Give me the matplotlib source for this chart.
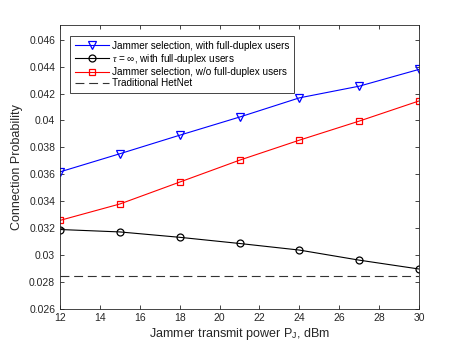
import matplotlib
matplotlib.use('Agg')
import matplotlib.pyplot as plt
import numpy as np

plt.rcParams['font.family'] = ['Liberation Sans', 'DejaVu Sans']
plt.rcParams['mathtext.fontset'] = 'custom'
plt.rcParams['mathtext.rm'] = 'Liberation Sans'
plt.rcParams['mathtext.it'] = 'Liberation Serif:italic'

# data
power = [12, 15, 18, 21, 24, 27, 30]
jammer_fd = [0.03617, 0.03752, 0.03890, 0.04025, 0.04168, 0.04255, 0.04380]
tau_inf_fd = [0.03188, 0.03170, 0.03130, 0.03084, 0.03035, 0.02960, 0.02894]
jammer_nofd = [0.03256, 0.03378, 0.03541, 0.03704, 0.03853, 0.03995, 0.04145]
hetnet = 0.02843

labels = ['Jammer selection, with full-duplex users',
          r'$\tau$ = $\infty$, with full-duplex users',
          'Jammer selection, w/o full-duplex users',
          'Traditional HetNet']

fig = plt.figure(figsize=(4.63, 3.48), dpi=100)
ax = fig.add_axes([0.1296, 0.1135, 0.7754, 0.8145])

lw = 0.8
ax.plot(power, jammer_fd, color='b', lw=lw, marker='v', ms=5.5,
        mfc='none', mec='b', mew=0.9, label=labels[0])
ax.plot(power, tau_inf_fd, color='k', lw=lw, marker='o', ms=5,
        mfc='none', mec='k', mew=0.9, label=labels[1])
ax.plot(power, jammer_nofd, color='r', lw=lw, marker='s', ms=4.5,
        mfc='none', mec='r', mew=0.9, label=labels[2])
ax.plot([power[0], power[-1]], [hetnet, hetnet], color='#333333', lw=lw,
        ls=(0, (8, 4.3)), label=labels[3])

ax.set_xlim(12, 30)
ax.set_ylim(0.026, 0.0471)
ax.set_xticks(np.arange(12, 31, 2))
ax.set_yticks(np.arange(0.026, 0.0461, 0.002))
ax.set_yticklabels(['0.026', '0.028', '0.03', '0.032', '0.034', '0.036',
                    '0.038', '0.04', '0.042', '0.044', '0.046'])

ax.tick_params(direction='in', top=True, right=True, labelsize=7.5,
               colors='#262626', length=3, width=0.6)
for s in ax.spines.values():
    s.set_color('#262626')
    s.set_linewidth(0.6)

ax.set_xlabel(r'Jammer transmit power P$_\mathregular{J}$, dBm', fontsize=9,
              color='#262626', labelpad=2)
ax.set_ylabel('Connection Probability', fontsize=9, color='#262626', labelpad=4)

leg = ax.legend(loc='upper left', bbox_to_anchor=(0.028, 0.961), fontsize=7.2,
                handlelength=3.4, borderaxespad=0, fancybox=False,
                framealpha=1, edgecolor='#262626', labelspacing=0.12,
                borderpad=0.45, handletextpad=0.35)
leg.get_frame().set_linewidth(0.6)

fig.savefig('out.png', dpi=100)
